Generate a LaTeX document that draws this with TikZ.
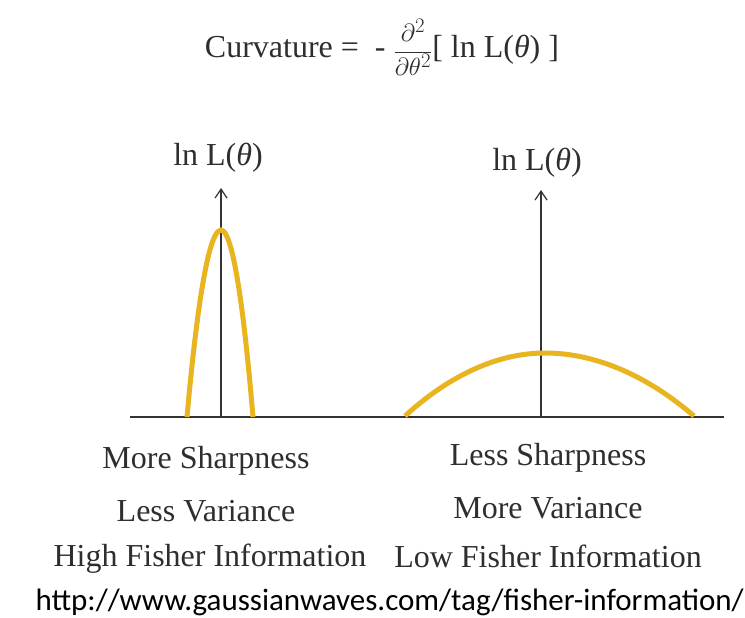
\documentclass[tikz,border=0pt]{standalone}
\usepackage{fontspec}
\setmainfont{Liberation Serif}
\newfontfamily\urlfont{Carlito}
\usetikzlibrary{arrows.meta}
\definecolor{curvegold}{HTML}{E8B420}
\definecolor{axisgray}{HTML}{333333}
\definecolor{txt}{HTML}{2E2E2E}
\tikzset{
  axisline/.style={draw=axisgray, line width=1.4pt},
  yaxis/.style={axisline, -{Straight Barb[length=9pt,width=12pt,line width=1.2pt]}},
  curve/.style={draw=curvegold, line width=5pt},
  lbl/.style={font=\fontsize{32}{36}\selectfont, text=txt, inner sep=0pt, anchor=base},
}
\newcommand{\lnL}{ln L(\textit{θ})}
\begin{document}
\begin{tikzpicture}[x=1pt,y=-1pt]
\useasboundingbox[fill=white] (0,0) rectangle (745,618);
% title
\node[lbl] (title) at (382,58) {Curvature = \ - $\displaystyle\frac{\partial^2}{\partial\theta^2}$[ \lnL\ ]};
% baseline
\coordinate (bl) at (130,417);
\coordinate (br) at (724,417);
\draw[axisline] (bl) -- (br);
% left axis
\coordinate (la0) at (221,417);
\coordinate (la1) at (221,188);
\draw[yaxis] (la0) -- (la1);
\node[lbl] (llab) at (218,165) {\lnL};
% right axis
\coordinate (ra0) at (541,417);
\coordinate (ra1) at (541,190);
\draw[yaxis] (ra0) -- (ra1);
\node[lbl] (rlab) at (537,170) {\lnL};
% curves
\draw[curve] (187,417) parabola bend (221,230) (253,417);
\draw[curve] (405,416) parabola bend (545,353) (694,416);
% labels left
\node[lbl] (l1) at (206,468) {More Sharpness};
\node[lbl] (l2) at (206,521) {Less Variance};
\node[lbl] (l3) at (210,566) {High Fisher Information};
% labels right
\node[lbl] (r1) at (548,465) {Less Sharpness};
\node[lbl] (r2) at (548,518) {More Variance};
\node[lbl] (r3) at (548,567) {Low Fisher Information};
% url
\node[inner sep=0pt, anchor=base east, font=\urlfont\fontsize{31}{34}\selectfont] (url) at (744,610) {http://www.gaussianwaves.com/tag/fisher-information/};
\end{tikzpicture}
\end{document}
